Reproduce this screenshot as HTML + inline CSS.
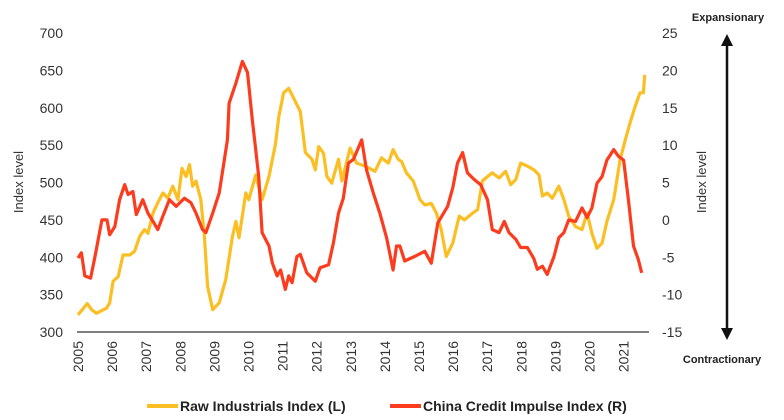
<!DOCTYPE html>
<html><head><meta charset="utf-8"><style>
html,body{margin:0;padding:0;background:#fff;}
svg{display:block;font-family:"Liberation Sans",sans-serif;}
</style></head><body>
<svg id="chart" width="784" height="420" viewBox="0 0 784 420" xmlns="http://www.w3.org/2000/svg">
<g id="axes"></g>
<g id="series"></g>
<text x="0" y="0" transform="translate(23,182) rotate(-90)" text-anchor="middle" font-size="13" fill="#333">Index level</text>
<text x="0" y="0" transform="translate(706,182) rotate(-90)" text-anchor="middle" font-size="13" fill="#333">Index level</text>
<text x="728" y="21" text-anchor="middle" font-size="11" font-weight="bold" fill="#222">Expansionary</text>
<text x="722" y="363" text-anchor="middle" font-size="11" font-weight="bold" fill="#222">Contractionary</text>
<g>
<line x1="727" y1="44" x2="727" y2="330" stroke="#111" stroke-width="2.5"/>
<polygon points="721,46 733,46 727,34" fill="#111"/>
<polygon points="721,328 733,328 727,340" fill="#111"/>
</g>
<g>
<g>
<line x1="147" y1="406" x2="178" y2="406" stroke="#fbbf24" stroke-width="4"/>
<text x="180" y="411" font-size="14" font-weight="bold" fill="#222">Raw Industrials Index (L)</text>
</g>
<g>
<line x1="390" y1="406" x2="421" y2="406" stroke="#fb3c1e" stroke-width="4"/>
<text x="423" y="411" font-size="14" font-weight="bold" fill="#222">China Credit Impulse Index (R)</text>
</g>
</g>
</svg>
<script>
const leftTicks=[300,350,400,450,500,550,600,650,700];
const rightTicks=[-15,-10,-5,0,5,10,15,20,25];
const yearLabels=[2005,2006,2007,2008,2009,2010,2011,2012,2013,2014,2015,2016,2017,2018,2019,2020,2021];
const rawYears=[2005.0,2005.27,2005.4,2005.54,2005.84,2005.93,2006.03,2006.18,2006.32,2006.52,2006.66,2006.81,2006.95,2007.05,2007.2,2007.34,2007.49,2007.63,2007.78,2007.93,2008.05,2008.17,2008.27,2008.36,2008.46,2008.6,2008.7,2008.8,2008.95,2009.14,2009.33,2009.53,2009.63,2009.72,2009.92,2010.01,2010.21,2010.4,2010.6,2010.79,2010.89,2011.03,2011.18,2011.52,2011.67,2011.86,2011.96,2012.06,2012.2,2012.3,2012.44,2012.64,2012.74,2012.98,2013.17,2013.42,2013.71,2013.9,2014.1,2014.24,2014.39,2014.49,2014.63,2014.83,2015.03,2015.17,2015.36,2015.51,2015.65,2015.8,2015.99,2016.18,2016.33,2016.52,2016.72,2016.86,2017.01,2017.15,2017.35,2017.54,2017.69,2017.84,2017.98,2018.18,2018.37,2018.52,2018.62,2018.76,2018.91,2019.1,2019.25,2019.39,2019.59,2019.78,2019.93,2020.07,2020.22,2020.37,2020.51,2020.71,2020.9,2021.05,2021.19,2021.34,2021.48,2021.58,2021.62];
const rawValues=[323,338,330,325,332,339,368,374,403,403,408,428,437,432,459,473,486,479,495,477,519,508,524,495,502,477,432,361,330,339,370,428,448,426,486,477,510,477,508,551,588,620,626,595,540,531,517,548,539,508,499,531,502,546,526,522,515,533,526,544,531,528,513,502,477,470,472,459,437,401,419,455,450,457,464,502,508,513,506,515,497,504,526,522,517,510,482,486,479,495,477,455,441,437,459,432,412,419,448,477,531,557,580,602,620,620,644];
const creditYears=[2005.0,2005.1,2005.2,2005.37,2005.5,2005.7,2005.85,2005.93,2006.08,2006.22,2006.37,2006.47,2006.61,2006.71,2006.9,2007.05,2007.2,2007.34,2007.49,2007.68,2007.88,2008.12,2008.31,2008.46,2008.65,2008.75,2008.95,2009.14,2009.29,2009.38,2009.43,2009.63,2009.82,2009.97,2010.11,2010.21,2010.3,2010.4,2010.6,2010.7,2010.84,2010.94,2011.08,2011.18,2011.28,2011.42,2011.52,2011.71,2011.96,2012.1,2012.35,2012.49,2012.64,2012.78,2012.93,2013.08,2013.32,2013.46,2013.66,2013.85,2014.05,2014.24,2014.34,2014.44,2014.58,2014.87,2015.17,2015.36,2015.55,2015.84,2015.99,2016.13,2016.28,2016.42,2016.62,2016.81,2017.01,2017.15,2017.35,2017.5,2017.64,2017.84,2017.98,2018.18,2018.37,2018.47,2018.62,2018.76,2018.96,2019.1,2019.25,2019.39,2019.59,2019.78,2019.93,2020.07,2020.22,2020.37,2020.51,2020.71,2020.85,2021.0,2021.14,2021.29,2021.43,2021.53];
const creditValues=[-5.1,-4.4,-7.5,-7.8,-4.9,0,0,-2,-0.9,2.7,4.7,3.4,3.8,0.7,2.7,0.9,-0.2,-1.3,0.5,2.7,1.8,2.9,2.3,0.9,-1.3,-1.7,0.9,3.6,8,10.7,15.6,18.3,21.2,19.7,13.4,9.4,5.8,-1.7,-3.5,-5.8,-7.5,-6.7,-9.3,-7.5,-8.4,-4.9,-4.6,-7.1,-8.2,-6.4,-6,-3.1,0.9,2.9,7.6,8.1,10.7,6.7,3.6,0.9,-2.4,-6.7,-3.5,-3.5,-5.5,-4.9,-4.2,-5.8,-0.4,1.8,4.3,7.6,9,6.3,5.4,4.7,2.7,-1.3,-1.7,-0.2,-1.7,-2.6,-3.7,-3.7,-5.2,-6.6,-6.2,-7.3,-4.9,-2.4,-1.7,0,-0.2,1.6,0.3,1.6,4.9,5.8,8,9.4,8.5,8,2.7,-3.5,-5.3,-7.1];

const NS="http://www.w3.org/2000/svg";
const X0=78,PX_PER_YEAR=34.1,Y_TOP=33,Y_BOT=332;
function xScale(yr){return X0+(yr-2005)*PX_PER_YEAR;}
function yLeft(v){return Y_BOT-(v-300)/(700-300)*(Y_BOT-Y_TOP);}
function yRight(v){return Y_BOT-(v+15)/(25+15)*(Y_BOT-Y_TOP);}
const axes=document.getElementById('axes');
const series=document.getElementById('series');
function mk(tag,attrs,parent){const e=document.createElementNS(NS,tag);for(const k in attrs)e.setAttribute(k,attrs[k]);parent.appendChild(e);return e;}

const base=mk('line',{x1:77,x2:649,y1:Y_BOT,y2:Y_BOT,stroke:'#333','stroke-width':1.2},axes);



leftTicks.forEach(v=>{
  const t=mk('text',{x:63,y:yLeft(v)+5,'text-anchor':'end','font-size':14,fill:'#333'},axes);
  
  
  t.textContent=v;
});
rightTicks.forEach(v=>{
  const t=mk('text',{x:662,y:yRight(v)+5,'text-anchor':'start','font-size':14,fill:'#333'},axes);
  
  
  t.textContent=v;
});
yearLabels.forEach(yr=>{
  const x=xScale(yr);
  const t=mk('text',{x:0,y:0,transform:'translate('+(x+5)+',341) rotate(-90)','text-anchor':'end','font-size':14,fill:'#333'},axes);
  
  
  t.textContent=yr;
});

function pathFrom(xs,vs,ys){return xs.map((yr,i)=>(i?'L':'M')+xScale(yr).toFixed(1)+','+ys(vs[i]).toFixed(1)).join(' ');}
const raw=mk('path',{d:pathFrom(rawYears,rawValues,yLeft),fill:'none',stroke:'#fbbf24','stroke-width':3.2,'stroke-linejoin':'round'},series);


const cr=mk('path',{d:pathFrom(creditYears,creditValues,yRight),fill:'none',stroke:'#fb3c1e','stroke-width':3.2,'stroke-linejoin':'round'},series);


</script>
</body></html>
